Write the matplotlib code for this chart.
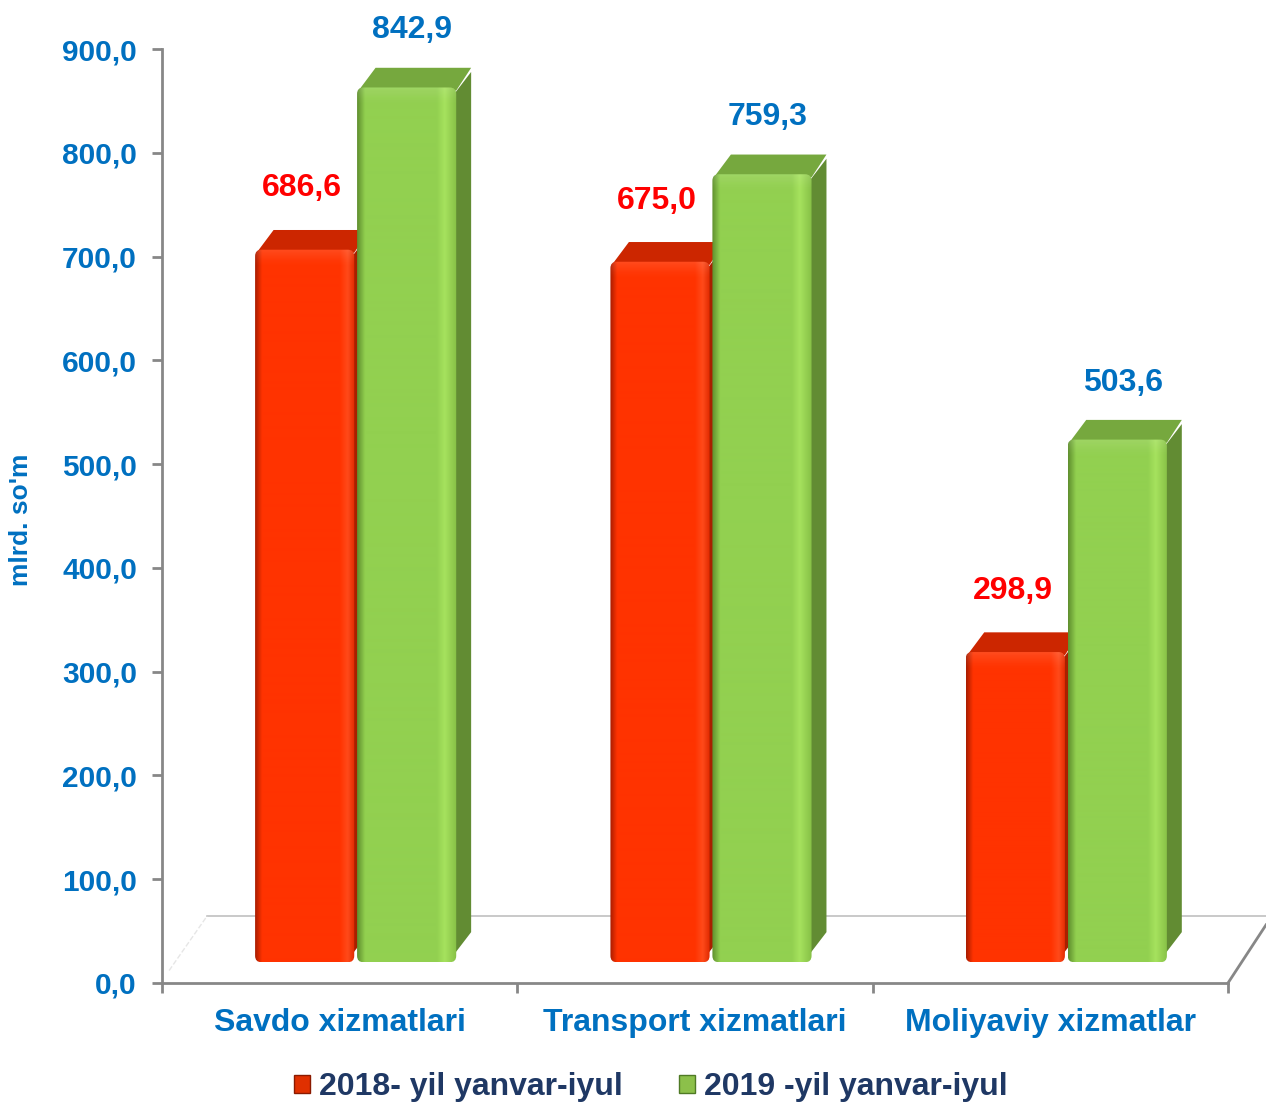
import numpy as np
import matplotlib.pyplot as plt
from matplotlib.patches import FancyBboxPatch, Polygon, Patch
from matplotlib.colors import to_rgb

categories = ['Savdo xizmatlari', 'Transport xizmatlari', 'Moliyaviy xizmatlar']
series_names = ['2018- yil yanvar-iyul', '2019 -yil yanvar-iyul']
y2018 = [686.6, 675.0, 298.9]
y2019 = [842.9, 759.3, 503.6]
yticks = [0, 100, 200, 300, 400, 500, 600, 700, 800, 900]

plt.rcParams['font.family'] = ['Liberation Sans', 'DejaVu Sans']
plt.rcParams['font.weight'] = 'bold'

BLUE = '#0070C0'
NAVY = '#1F3864'
AXIS = '#878787'

# pseudo-3d geometry (data units)
BASE = 20.0      # front face sits a bit above 0
DX, DY = 0.042, 21.0
W = 0.279
OFFS = [0.262, 0.549]

styles = [
    dict(stops=[(0, '#a81c00'), (0.07, '#ff3300'), (0.85, '#ff3300'), (0.93, '#ff4a1a'), (1, '#e02a00')],
         top='#cc2600', side='#a82000', label='#ff0000'),
    dict(stops=[(0, '#5f8f2e'), (0.08, '#92d050'), (0.8, '#92d050'), (0.88, '#a6e25e'), (1, '#86c046')],
         top='#76a83e', side='#628c33', label=BLUE),
]


def gradient(stops, n=200):
    xs = np.linspace(0, 1, n)
    pos = [s[0] for s in stops]
    cols = np.array([to_rgb(s[1]) for s in stops])
    img = np.stack([np.interp(xs, pos, cols[:, i]) for i in range(3)], axis=-1)
    return img[np.newaxis, :, :]


fig = plt.figure(figsize=(12.66, 11.04), dpi=100)
ax = fig.add_axes([162 / 1266, 1 - 983 / 1104, (1228 - 162) / 1266, (983 - 49) / 1104])
ax.set_xlim(0, 3)
ax.set_ylim(0, 900)

aspect = (900 / 934) / (3 / 1066)

# floor
ax.plot([0.127, 3.107], [64.6, 64.6], color='#c0c0c0', lw=1.2, clip_on=False, zorder=1)
ax.plot([3.0, 3.107], [0, 56], color=AXIS, lw=2, clip_on=False, zorder=1)
ax.plot([0.02, 0.127], [12, 64.6], color='#e6e6e6', lw=1, ls='--', clip_on=False, zorder=1)


def draw_bar(x0, v, st):
    x1 = x0 + W
    top = BASE + v
    # side face
    side = Polygon([(x1 - 0.005, BASE + 8), (x1 + DX, BASE + DY + 8), (x1 + DX, top + DY - 6),
                    (x1 - 0.005, top - 6)], closed=True, fc=st['side'], ec='none', zorder=2)
    ax.add_patch(side)
    # top face
    topface = Polygon([(x0 + 0.004, top - 3), (x1, top - 3), (x1 + DX, top + DY - 2),
                       (x0 + DX + 0.01, top + DY - 2)], closed=True, fc=st['top'], ec='none', zorder=2)
    ax.add_patch(topface)
    # front face with gradient
    front = FancyBboxPatch((x0, BASE), W, v, boxstyle='round,pad=0,rounding_size=0.018',
                           mutation_aspect=aspect, fc='none', ec='none', zorder=3)
    ax.add_patch(front)
    im = ax.imshow(gradient(st['stops']), extent=[x0, x1, BASE, top], aspect='auto',
                   zorder=3, interpolation='bilinear')
    im.set_clip_path(front)
    # soft highlight at the top rim
    hl = np.zeros((40, 2, 4))
    hl[..., :3] = 1.0
    hl[:, :, 3] = np.linspace(0, 0.25, 40)[:, None] ** 1.5
    im2 = ax.imshow(hl, extent=[x0, x1, top - 18, top], aspect='auto', zorder=3.5,
                    origin='lower', interpolation='bilinear')
    im2.set_clip_path(front)


for i in range(len(categories)):
    for s, vals in enumerate([y2018, y2019]):
        x0 = i + OFFS[s]
        v = vals[i]
        draw_bar(x0, v, styles[s])
        off = 38 if s == 0 else 34
        ax.text(x0 + W / 2 + (-0.008 if s == 0 else 0.015), BASE + v + DY + off,
                f'{v:.1f}'.replace('.', ','), ha='center', va='center',
                fontsize=23, fontweight='bold', color=styles[s]['label'], zorder=5)

# axes styling
for sp in ['top', 'right']:
    ax.spines[sp].set_visible(False)
for sp in ['left', 'bottom']:
    ax.spines[sp].set_color(AXIS)
    ax.spines[sp].set_linewidth(2)

ax.set_yticks(yticks)
ax.set_yticklabels([f'{t:.1f}'.replace('.', ',') for t in yticks])
ax.tick_params(axis='y', colors=AXIS, labelcolor=BLUE, labelsize=21.5, length=7, width=2, pad=11)

ax.set_xticks([0, 1, 2, 3])
ax.set_xticklabels([])
ax.set_xticks([0.5, 1.5, 2.5], minor=True)
ax.set_xticklabels(categories, minor=True)
ax.tick_params(axis='x', which='major', colors=AXIS, length=7, width=2)
ax.tick_params(axis='x', which='minor', length=0, labelcolor=BLUE, labelsize=23, pad=18)

ax.set_ylabel("mlrd. so'm", color=BLUE, fontsize=19, fontweight='bold')
ax.yaxis.set_label_coords(-0.121, 0.496)

handles = [Patch(fc='#e03000', ec='#8a1a00', lw=1), Patch(fc='#8cc04a', ec='#4f7a25', lw=1)]
fig.legend(handles, series_names, loc='center', bbox_to_anchor=(0.514, 1 - 1087 / 1104), ncol=2,
           frameon=False, fontsize=23, labelcolor=NAVY, handlelength=0.5, handleheight=0.5,
           handletextpad=0.3, columnspacing=1.75)

fig.savefig('out.png', dpi=100)
